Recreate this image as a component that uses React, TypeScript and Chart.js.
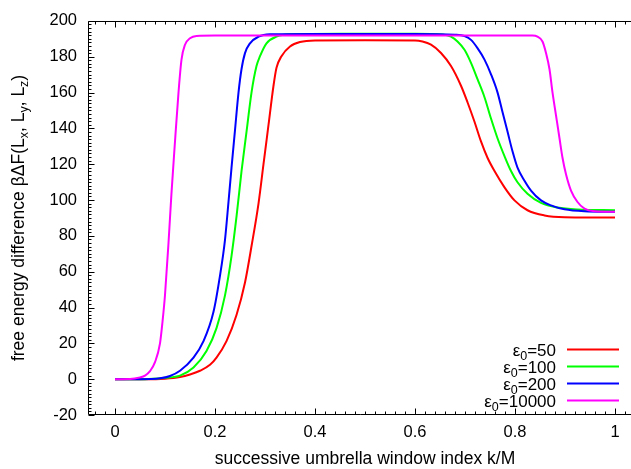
import React, { useEffect, useRef } from "react";
import { Chart, registerables } from "chart.js";

Chart.register(...registerables);

// ---- axes ----
const X_MIN = -0.054;
const X_MAX = 1.032;
const Y_MIN = -20;
const Y_MAX = 200;
const X_TICKS = [0, 0.2, 0.4, 0.6, 0.8, 1];
const X_TICK_LABELS = ["0", "0.2", "0.4", "0.6", "0.8", "1"];
const Y_TICKS = [-20, 0, 20, 40, 60, 80, 100, 120, 140, 160, 180, 200];
const Y_TICK_LABELS = ["-20", "0", "20", "40", "60", "80", "100", "120", "140", "160", "180", "200"];
const X_MINOR_STEP = 0.02;
const Y_MINOR_STEP = 2;

const X_TITLE = "successive umbrella window index k/M";
const Y_TITLE_PARTS: [string, boolean][] = [
  ["free energy difference βΔF(L", false],
  ["x", true],
  [", L", false],
  ["y", true],
  [", L", false],
  ["z", true],
  [")", false],
];

// ---- series ----
const SERIES_LABELS = ["50", "100", "200", "10000"];
const SERIES_COLORS = ["#ff0000", "#00ff00", "#0000ff", "#ff00ff"];

const X_50 = [0, 0.06, 0.1, 0.13, 0.15, 0.17, 0.19, 0.203, 0.223, 0.243, 0.26, 0.273, 0.287, 0.297, 0.307, 0.317, 0.323, 0.333, 0.35, 0.37, 0.4, 0.5, 0.6, 0.615, 0.632, 0.652, 0.672, 0.692, 0.705, 0.719, 0.732, 0.745, 0.759, 0.779, 0.799, 0.825, 0.859, 0.899, 0.95, 1.0];
const Y_50 = [0, 0, 0.3, 1.2, 2.6, 4.7, 8, 12, 21.2, 35.8, 54, 74.2, 98, 120, 141.9, 163.8, 173.8, 180.3, 185.7, 188.2, 189.1, 189.2, 189.1, 188.5, 186.7, 182.1, 174.8, 163.8, 154.6, 143.7, 132.7, 123.6, 116.2, 107.1, 99.8, 94.3, 91.4, 90.4, 90.3, 90.3];

const X_100 = [0, 0.06, 0.1, 0.13, 0.157, 0.183, 0.203, 0.22, 0.233, 0.243, 0.253, 0.263, 0.273, 0.283, 0.29, 0.303, 0.323, 0.35, 0.45, 0.6, 0.655, 0.672, 0.685, 0.699, 0.712, 0.725, 0.739, 0.752, 0.765, 0.779, 0.792, 0.805, 0.825, 0.852, 0.885, 0.925, 1.0];
const Y_100 = [0, 0, 0.8, 2, 6.5, 15.7, 28.5, 46.8, 68.7, 90.7, 116, 138, 160, 174.8, 180.3, 187.5, 191.2, 192.5, 192.8, 192.8, 192.4, 191.2, 188.5, 183.9, 176.6, 167.5, 157.4, 145.5, 134.5, 124.5, 116.2, 109.9, 103.5, 98.4, 95.8, 94.7, 94.3];

const X_200 = [0, 0.05, 0.09, 0.11, 0.13, 0.157, 0.177, 0.197, 0.21, 0.22, 0.227, 0.233, 0.24, 0.247, 0.253, 0.26, 0.27, 0.287, 0.31, 0.4, 0.6, 0.68, 0.699, 0.712, 0.725, 0.739, 0.752, 0.765, 0.775, 0.785, 0.795, 0.805, 0.819, 0.832, 0.852, 0.872, 0.899, 0.939, 1.0];
const Y_200 = [0, 0, 0.5, 1.8, 4.7, 12, 21.2, 37.6, 57.8, 77.8, 99, 118, 139, 160, 173, 182, 187.5, 191.2, 192.5, 192.7, 192.7, 192.3, 191.6, 189.4, 184.8, 178.4, 170.2, 160.1, 149.1, 138.2, 127.2, 118.1, 110.8, 105.3, 99.8, 97, 94.8, 93.7, 93.4];

const X_10000 = [0, 0.03, 0.05, 0.06, 0.07, 0.08, 0.09, 0.095, 0.1, 0.107, 0.113, 0.12, 0.127, 0.133, 0.14, 0.15, 0.163, 0.2, 0.5, 0.835, 0.845, 0.855, 0.862, 0.869, 0.875, 0.882, 0.889, 0.895, 0.902, 0.912, 0.925, 0.939, 0.959, 1.0];
const Y_10000 = [0, 0.1, 1, 2, 4.5, 9.5, 20, 32, 47, 76, 104, 132.7, 160, 178.4, 186.7, 190.3, 191.6, 191.8, 191.8, 191.8, 191.2, 188.5, 182.1, 173, 160.1, 147.3, 134.5, 123.6, 114.4, 105.3, 98.9, 95.2, 93.7, 93.4];

const SERIES_X = [X_50, X_100, X_200, X_10000];
const SERIES_Y = [Y_50, Y_100, Y_200, Y_10000];

const FONT = "'Liberation Sans', Arial, Helvetica, sans-serif";
const TEXT_COLOR = "#000";

function drawParts(
  ctx: CanvasRenderingContext2D,
  parts: [string, boolean][],
  x: number,
  y: number,
  align: "left" | "center" | "right",
  size: number,
  subSize: number,
  subDrop: number
) {
  const widths = parts.map(([t, sub]) => {
    ctx.font = `${sub ? subSize : size}px ${FONT}`;
    return ctx.measureText(t).width;
  });
  const total = widths.reduce((a, b) => a + b, 0);
  let cx = align === "left" ? x : align === "center" ? x - total / 2 : x - total;
  ctx.textAlign = "left";
  ctx.textBaseline = "alphabetic";
  parts.forEach(([t, sub], i) => {
    ctx.font = `${sub ? subSize : size}px ${FONT}`;
    ctx.fillText(t, cx, sub ? y + subDrop : y);
    cx += widths[i];
  });
}

const decorPlugin = {
  id: "decor",
  beforeDatasetsDraw(chart: any) {
    const { ctx, chartArea: a, scales } = chart;
    const xs = scales.x;
    const ys = scales.y;
    const L = Math.round(a.left) + 0.5;
    const T = Math.round(a.top) + 0.5;
    const B = Math.round(a.bottom) - 0.5;
    const R = Math.round(a.right) + 10;
    ctx.save();
    ctx.strokeStyle = "#000";
    ctx.lineWidth = 1;
    ctx.beginPath();
    ctx.moveTo(R, T);
    ctx.lineTo(L, T);
    ctx.lineTo(L, B);
    ctx.lineTo(R, B);
    const nx0 = Math.ceil(X_MIN / X_MINOR_STEP);
    const nx1 = Math.floor(X_MAX / X_MINOR_STEP);
    for (let i = nx0; i <= nx1; i++) {
      const v = i * X_MINOR_STEP;
      const px = Math.round(xs.getPixelForValue(v)) + 0.5;
      const major = i % 10 === 0;
      const len = major ? 6 : 3;
      ctx.moveTo(px, B);
      ctx.lineTo(px, B - len);
      ctx.moveTo(px, T);
      ctx.lineTo(px, T + len);
    }
    const ny0 = Math.ceil(Y_MIN / Y_MINOR_STEP);
    const ny1 = Math.floor(Y_MAX / Y_MINOR_STEP);
    for (let i = ny0; i <= ny1; i++) {
      const v = i * Y_MINOR_STEP;
      const py = Math.round(ys.getPixelForValue(v)) + 0.5;
      const major = i % 10 === 0;
      const len = major ? 6 : 3;
      ctx.moveTo(L, py);
      ctx.lineTo(L + len, py);
    }
    ctx.stroke();
    ctx.restore();
  },
  afterDraw(chart: any) {
    const { ctx, chartArea: a, scales } = chart;
    ctx.save();
    ctx.fillStyle = TEXT_COLOR;
    ctx.font = `17.5px ${FONT}`;
    ctx.textAlign = "center";
    ctx.textBaseline = "alphabetic";
    ctx.fillText(X_TITLE, scales.x.getPixelForValue(0.5), 464);
    ctx.save();
    ctx.translate(24, (a.top + a.bottom) / 2);
    ctx.rotate(-Math.PI / 2);
    drawParts(ctx, Y_TITLE_PARTS, 0, 0, "center", 17.5, 12.5, 4);
    ctx.restore();
    const rowY = [349.5, 366.5, 383.5, 400.5];
    chart.data.datasets.forEach((ds: any, i: number) => {
      const y = rowY[i];
      ctx.fillStyle = TEXT_COLOR;
      drawParts(
        ctx,
        [["ε", false], ["0", true], ["=" + SERIES_LABELS[i], false]],
        556,
        y + 6,
        "right",
        17,
        12.5,
        4
      );
      ctx.strokeStyle = ds.borderColor;
      ctx.lineWidth = 2;
      ctx.beginPath();
      ctx.moveTo(567, y);
      ctx.lineTo(619, y);
      ctx.stroke();
    });
    ctx.restore();
  },
};

export default function App() {
  const ref = useRef<HTMLCanvasElement | null>(null);
  useEffect(() => {
    document.body.style.margin = "0";
    const canvas = ref.current!;
    const datasets = SERIES_LABELS.map((lab, i) => ({
      label: "ε0=" + lab,
      data: SERIES_X[i].map((x, j) => ({ x, y: SERIES_Y[i][j] })),
      borderColor: SERIES_COLORS[i],
      backgroundColor: SERIES_COLORS[i],
      borderWidth: 2,
      pointRadius: 0,
      fill: false,
      cubicInterpolationMode: "monotone" as const,
      order: SERIES_LABELS.length - 1 - i,
    }));
    const chart = new Chart(canvas, {
      type: "line",
      data: { datasets },
      options: {
        animation: false,
        responsive: false,
        maintainAspectRatio: false,
        devicePixelRatio: 1,
        layout: { padding: { top: 14, left: 0, right: 0, bottom: 0 } },
        plugins: { legend: { display: false }, tooltip: { enabled: false }, title: { display: false } },
        scales: {
          x: {
            type: "linear",
            min: X_MIN,
            max: X_MAX,
            grid: { display: false, drawTicks: false },
            border: { display: false },
            afterBuildTicks: (s: any) => {
              s.ticks = X_TICKS.map((v) => ({ value: v }));
            },
            afterFit: (s: any) => {
              s.height = 54;
            },
            ticks: {
              autoSkip: false,
              maxRotation: 0,
              padding: 8,
              color: TEXT_COLOR,
              font: { family: FONT, size: 16.5 },
              callback: (v: any) => {
                const k = X_TICKS.indexOf(Number(v));
                return k >= 0 ? X_TICK_LABELS[k] : "";
              },
            },
          },
          y: {
            type: "linear",
            min: Y_MIN,
            max: Y_MAX,
            grid: { display: false, drawTicks: false },
            border: { display: false },
            afterBuildTicks: (s: any) => {
              s.ticks = Y_TICKS.map((v) => ({ value: v }));
            },
            afterFit: (s: any) => {
              s.width = 88;
            },
            ticks: {
              autoSkip: false,
              padding: 11,
              color: TEXT_COLOR,
              font: { family: FONT, size: 16.5 },
              callback: (v: any) => {
                const k = Y_TICKS.indexOf(Number(v));
                return k >= 0 ? Y_TICK_LABELS[k] : "";
              },
            },
          },
        },
      },
      plugins: [decorPlugin],
    });
    return () => chart.destroy();
  }, []);
  return (
    <div style={{ position: "absolute", left: 0, top: 0, width: 631, height: 469 }}>
      <canvas ref={ref} width={631} height={469} />
    </div>
  );
}
